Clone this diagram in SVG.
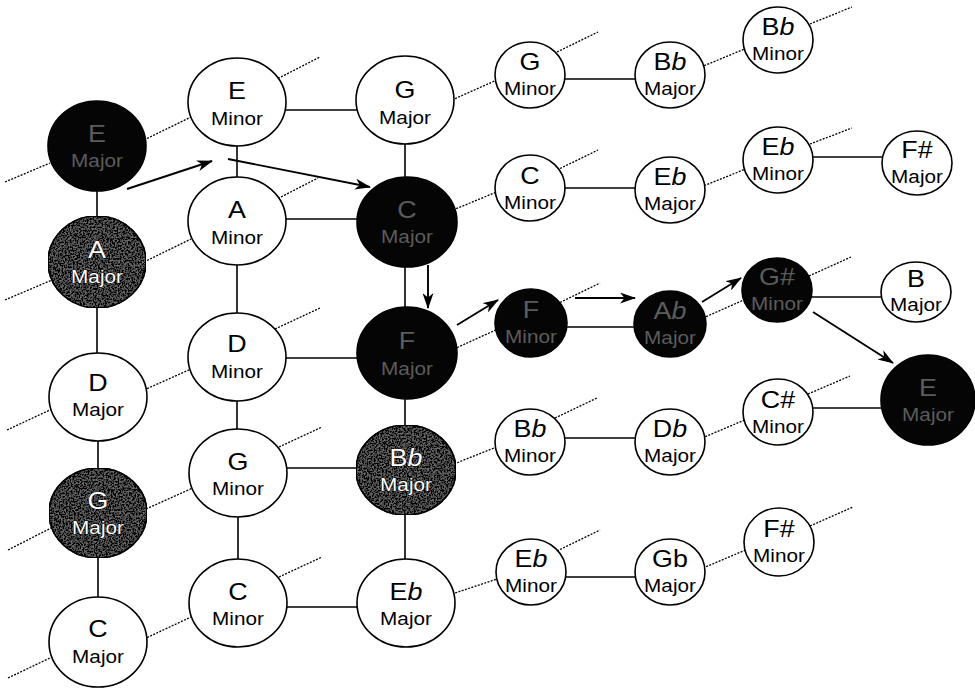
<svg xmlns="http://www.w3.org/2000/svg" width="975" height="690" viewBox="0 0 975 690">
  <style>
    .bg { fill: #ffffff; }
    .node ellipse { stroke: #000; stroke-width: 1.6; }
    .plain ellipse { fill: #ffffff; }
    .dark ellipse { fill: #050505; }
    .shade ellipse { fill: #707070; }
    text { font-family: "Liberation Sans", Arial, sans-serif; text-anchor: middle; }
    .k { font-size: 24px; }
    .q { font-size: 18.5px; }
    .plain text { fill: #000; }
    .dark text { fill: #5c5c5c; }
    .shade text { fill: #ffffff; stroke: #000; stroke-width: 0.9; paint-order: stroke; }
    .solid line { stroke: #000; stroke-width: 1.6; fill: none; }
    .dot line { stroke: #000; stroke-width: 1.3; stroke-dasharray: 2 1.4; fill: none; }
    .arrow line { stroke: #000; stroke-width: 1.9; fill: none; marker-end: url(#head); }
  </style>
  <defs>
    <marker id="head" viewBox="0 0 16 11" refX="15" refY="5.5" markerWidth="16" markerHeight="11" markerUnits="userSpaceOnUse" orient="auto">
      <path d="M0,0 L16,5.5 L0,11 L4.5,5.5 Z" fill="#000"/>
    </marker>
    <!-- coarse grain for the shaded keys -->
    <filter id="grain" x="0" y="0" width="100%" height="100%">
      <feTurbulence type="fractalNoise" baseFrequency="0.6" numOctaves="2" seed="7" result="noise"/>
      <feColorMatrix in="noise" type="matrix" values="0 0 0 0 0  0 0 0 0 0  0 0 0 0 0  0 0 0 -3.2 2.3" result="spots"/>
      <feComposite in="spots" in2="SourceGraphic" operator="in" result="clipped"/>
      <feMerge><feMergeNode in="SourceGraphic"/><feMergeNode in="clipped"/></feMerge>
    </filter>
  </defs>

  <rect class="bg" x="0" y="0" width="975" height="690"/>

  <!-- connectors -->
  <g id="connectors">
    <!-- relative / fifth relations -->
    <g class="solid">
      <line x1="97" y1="185" x2="97" y2="222"/>
      <line x1="97" y1="300" x2="97" y2="358"/>
      <line x1="98" y1="436" x2="98" y2="474"/>
      <line x1="98" y1="552" x2="98" y2="603"/>
      <line x1="237" y1="140" x2="237" y2="182"/>
      <line x1="237" y1="260" x2="237" y2="318"/>
      <line x1="237" y1="396" x2="237" y2="434"/>
      <line x1="238" y1="512" x2="238" y2="564"/>
      <line x1="405" y1="138" x2="405" y2="183"/>
      <line x1="405" y1="260" x2="405" y2="314"/>
      <line x1="405" y1="392" x2="405" y2="431"/>
      <line x1="405" y1="509" x2="405" y2="564"/>
      <line x1="282" y1="110" x2="360" y2="110"/>
      <line x1="282" y1="219" x2="362" y2="219"/>
      <line x1="282" y1="358" x2="362" y2="358"/>
      <line x1="283" y1="468" x2="361" y2="468"/>
      <line x1="283" y1="607" x2="361" y2="607"/>
      <line x1="562" y1="79" x2="638" y2="79"/>
      <line x1="562" y1="188" x2="638" y2="188"/>
      <line x1="563" y1="327" x2="638" y2="327"/>
      <line x1="562" y1="438" x2="638" y2="438"/>
      <line x1="563" y1="577" x2="638" y2="577"/>
      <line x1="810" y1="157" x2="885" y2="157"/>
      <line x1="809" y1="297" x2="884" y2="297"/>
      <line x1="810" y1="408" x2="884" y2="408"/>
    </g>
    <!-- parallel relations -->
    <g class="dot">
      <line x1="5" y1="182" x2="50" y2="163"/>
      <line x1="5" y1="300" x2="52" y2="280"/>
      <line x1="7" y1="430" x2="52" y2="409"/>
      <line x1="8" y1="550" x2="53" y2="527"/>
      <line x1="8" y1="678" x2="52" y2="657"/>
      <line x1="144" y1="140" x2="191" y2="117"/>
      <line x1="144" y1="262" x2="191" y2="239"/>
      <line x1="144" y1="390" x2="191" y2="369"/>
      <line x1="146" y1="509" x2="195" y2="487"/>
      <line x1="144" y1="639" x2="191" y2="617"/>
      <line x1="275" y1="80" x2="320" y2="57"/>
      <line x1="275" y1="200" x2="318" y2="178"/>
      <line x1="275" y1="329" x2="320" y2="308"/>
      <line x1="279" y1="447" x2="322" y2="427"/>
      <line x1="279" y1="577" x2="322" y2="557"/>
      <line x1="452" y1="100" x2="499" y2="79"/>
      <line x1="453" y1="210" x2="499" y2="191"/>
      <line x1="454" y1="349" x2="500" y2="328"/>
      <line x1="454" y1="464" x2="499" y2="446"/>
      <line x1="452" y1="594" x2="500" y2="578"/>
      <line x1="557" y1="52" x2="598" y2="32"/>
      <line x1="557" y1="170" x2="598" y2="150"/>
      <line x1="557" y1="304" x2="600" y2="283"/>
      <line x1="555" y1="418" x2="597" y2="398"/>
      <line x1="557" y1="551" x2="600" y2="530"/>
      <line x1="701" y1="67" x2="747" y2="48"/>
      <line x1="701" y1="187" x2="748" y2="168"/>
      <line x1="703" y1="318" x2="746" y2="299"/>
      <line x1="702" y1="438" x2="747" y2="419"/>
      <line x1="703" y1="568" x2="748" y2="549"/>
      <line x1="810" y1="24" x2="852" y2="7"/>
      <line x1="810" y1="144" x2="852" y2="128"/>
      <line x1="809" y1="276" x2="851" y2="257"/>
      <line x1="808" y1="394" x2="850" y2="376"/>
      <line x1="810" y1="526" x2="853" y2="507"/>
    </g>
    <!-- modulation path -->
    <g class="arrow">
      <line x1="127" y1="189" x2="212" y2="161"/>
      <line x1="228" y1="159" x2="370" y2="187"/>
      <line x1="428" y1="265" x2="428" y2="308"/>
      <line x1="457" y1="325" x2="498" y2="300"/>
      <line x1="575" y1="298" x2="635" y2="298"/>
      <line x1="702" y1="302" x2="741" y2="278"/>
      <line x1="813" y1="312" x2="893" y2="363"/>
    </g>
  </g>

  <!-- first column: major keys -->
  <g id="e-major" class="node dark" transform="translate(97,146)">
    <ellipse rx="49" ry="45"/>
    <text transform="scale(1.12,1)"><tspan class="k" x="0" y="-4">E</tspan><tspan class="q" x="0" y="21">Major</tspan></text>
  </g>
  <g id="a-major" class="node shade" transform="translate(97,262)">
    <ellipse rx="49" ry="46" filter="url(#grain)"/>
    <text transform="scale(1.12,1)"><tspan class="k" x="0" y="-4">A</tspan><tspan class="q" x="0" y="21">Major</tspan></text>
  </g>
  <g id="d-major" class="node plain" transform="translate(98,397)">
    <ellipse rx="49" ry="44"/>
    <text transform="scale(1.12,1)"><tspan class="k" x="0" y="-6">D</tspan><tspan class="q" x="0" y="19">Major</tspan></text>
  </g>
  <g id="g-major" class="node shade" transform="translate(98,513)">
    <ellipse rx="49" ry="45" filter="url(#grain)"/>
    <text transform="scale(1.12,1)"><tspan class="k" x="0" y="-4">G</tspan><tspan class="q" x="0" y="21">Major</tspan></text>
  </g>
  <g id="c-major" class="node plain" transform="translate(98,642)">
    <ellipse rx="49" ry="45"/>
    <text transform="scale(1.12,1)"><tspan class="k" x="0" y="-5">C</tspan><tspan class="q" x="0" y="21">Major</tspan></text>
  </g>

  <!-- second column: minor keys -->
  <g id="e-minor" class="node plain" transform="translate(237,102)">
    <ellipse rx="49" ry="44"/>
    <text transform="scale(1.12,1)"><tspan class="k" x="0" y="-3">E</tspan><tspan class="q" x="0" y="23">Minor</tspan></text>
  </g>
  <g id="a-minor" class="node plain" transform="translate(237,221)">
    <ellipse rx="49" ry="44"/>
    <text transform="scale(1.12,1)"><tspan class="k" x="0" y="-3">A</tspan><tspan class="q" x="0" y="23">Minor</tspan></text>
  </g>
  <g id="d-minor" class="node plain" transform="translate(237,357)">
    <ellipse rx="49" ry="44"/>
    <text transform="scale(1.12,1)"><tspan class="k" x="0" y="-5">D</tspan><tspan class="q" x="0" y="21">Minor</tspan></text>
  </g>
  <g id="g-minor" class="node plain" transform="translate(238,473)">
    <ellipse rx="49" ry="44"/>
    <text transform="scale(1.12,1)"><tspan class="k" x="0" y="-3">G</tspan><tspan class="q" x="0" y="22">Minor</tspan></text>
  </g>
  <g id="c-minor" class="node plain" transform="translate(238,603)">
    <ellipse rx="49" ry="44"/>
    <text transform="scale(1.12,1)"><tspan class="k" x="0" y="-3">C</tspan><tspan class="q" x="0" y="22">Minor</tspan></text>
  </g>

  <!-- third column: major keys -->
  <g id="g-major-2" class="node plain" transform="translate(405,100)">
    <ellipse rx="49" ry="44"/>
    <text transform="scale(1.12,1)"><tspan class="k" x="0" y="-2">G</tspan><tspan class="q" x="0" y="24">Major</tspan></text>
  </g>
  <g id="c-major-2" class="node dark" transform="translate(407,222)">
    <ellipse rx="50" ry="45"/>
    <text transform="scale(1.12,1)"><tspan class="k" x="0" y="-4">C</tspan><tspan class="q" x="0" y="21">Major</tspan></text>
  </g>
  <g id="f-major" class="node dark" transform="translate(407,353)">
    <ellipse rx="50" ry="46"/>
    <text transform="scale(1.12,1)"><tspan class="k" x="0" y="-4">F</tspan><tspan class="q" x="0" y="22">Major</tspan></text>
  </g>
  <g id="bb-major" class="node shade" transform="translate(406,470)">
    <ellipse rx="50" ry="45" filter="url(#grain)"/>
    <text transform="scale(1.12,1)"><tspan class="k" x="0" y="-4">B<tspan font-style="italic">b</tspan></tspan><tspan class="q" x="0" y="21">Major</tspan></text>
  </g>
  <g id="eb-major" class="node plain" transform="translate(406,603)">
    <ellipse rx="49" ry="44"/>
    <text transform="scale(1.12,1)"><tspan class="k" x="0" y="-3">E<tspan font-style="italic">b</tspan></tspan><tspan class="q" x="0" y="22">Major</tspan></text>
  </g>

  <!-- fourth column: minor keys -->
  <g id="g-minor-2" class="node plain" transform="translate(530,75)">
    <ellipse rx="35" ry="33"/>
    <text transform="scale(1.12,1)"><tspan class="k" x="0" y="-5">G</tspan><tspan class="q" x="0" y="20">Minor</tspan></text>
  </g>
  <g id="c-minor-2" class="node plain" transform="translate(530,188)">
    <ellipse rx="35" ry="33"/>
    <text transform="scale(1.12,1)"><tspan class="k" x="0" y="-4">C</tspan><tspan class="q" x="0" y="21">Minor</tspan></text>
  </g>
  <g id="f-minor" class="node dark" transform="translate(531,323)">
    <ellipse rx="36" ry="34"/>
    <text transform="scale(1.12,1)"><tspan class="k" x="0" y="-5">F</tspan><tspan class="q" x="0" y="20">Minor</tspan></text>
  </g>
  <g id="bb-minor" class="node plain" transform="translate(530,442)">
    <ellipse rx="35" ry="33"/>
    <text transform="scale(1.12,1)"><tspan class="k" x="0" y="-5">B<tspan font-style="italic">b</tspan></tspan><tspan class="q" x="0" y="20">Minor</tspan></text>
  </g>
  <g id="eb-minor" class="node plain" transform="translate(531,572)">
    <ellipse rx="35" ry="33"/>
    <text transform="scale(1.12,1)"><tspan class="k" x="0" y="-5">E<tspan font-style="italic">b</tspan></tspan><tspan class="q" x="0" y="20">Minor</tspan></text>
  </g>

  <!-- fifth column: major keys -->
  <g id="bb-major-2" class="node plain" transform="translate(670,75)">
    <ellipse rx="35" ry="33"/>
    <text transform="scale(1.12,1)"><tspan class="k" x="0" y="-5">B<tspan font-style="italic">b</tspan></tspan><tspan class="q" x="0" y="20">Major</tspan></text>
  </g>
  <g id="eb-major-2" class="node plain" transform="translate(670,190)">
    <ellipse rx="35" ry="33"/>
    <text transform="scale(1.12,1)"><tspan class="k" x="0" y="-5">E<tspan font-style="italic">b</tspan></tspan><tspan class="q" x="0" y="20">Major</tspan></text>
  </g>
  <g id="ab-major" class="node dark" transform="translate(670,324)">
    <ellipse rx="36" ry="33"/>
    <text transform="scale(1.12,1)"><tspan class="k" x="0" y="-5">A<tspan font-style="italic">b</tspan></tspan><tspan class="q" x="0" y="20">Major</tspan></text>
  </g>
  <g id="db-major" class="node plain" transform="translate(670,442)">
    <ellipse rx="35" ry="33"/>
    <text transform="scale(1.12,1)"><tspan class="k" x="0" y="-5">D<tspan font-style="italic">b</tspan></tspan><tspan class="q" x="0" y="20">Major</tspan></text>
  </g>
  <g id="gb-major" class="node plain" transform="translate(670,572)">
    <ellipse rx="35" ry="33"/>
    <text transform="scale(1.12,1)"><tspan class="k" x="0" y="-5">Gb</tspan><tspan class="q" x="0" y="20">Major</tspan></text>
  </g>

  <!-- sixth column: minor keys -->
  <g id="bb-minor-2" class="node plain" transform="translate(778,40)">
    <ellipse rx="35" ry="33"/>
    <text transform="scale(1.12,1)"><tspan class="k" x="0" y="-5">B<tspan font-style="italic">b</tspan></tspan><tspan class="q" x="0" y="20">Minor</tspan></text>
  </g>
  <g id="eb-minor-2" class="node plain" transform="translate(778,160)">
    <ellipse rx="35" ry="33"/>
    <text transform="scale(1.12,1)"><tspan class="k" x="0" y="-5">E<tspan font-style="italic">b</tspan></tspan><tspan class="q" x="0" y="20">Minor</tspan></text>
  </g>
  <g id="gs-minor" class="node dark" transform="translate(777,290)">
    <ellipse rx="35" ry="32"/>
    <text transform="scale(1.12,1)"><tspan class="k" x="0" y="-5">G#</tspan><tspan class="q" x="0" y="20">Minor</tspan></text>
  </g>
  <g id="cs-minor" class="node plain" transform="translate(778,412)">
    <ellipse rx="35" ry="33"/>
    <text transform="scale(1.12,1)"><tspan class="k" x="0" y="-4">C#</tspan><tspan class="q" x="0" y="21">Minor</tspan></text>
  </g>
  <g id="fs-minor" class="node plain" transform="translate(779,542)">
    <ellipse rx="35" ry="34"/>
    <text transform="scale(1.12,1)"><tspan class="k" x="0" y="-5">F#</tspan><tspan class="q" x="0" y="20">Minor</tspan></text>
  </g>

  <!-- seventh column: major keys -->
  <g id="fs-major" class="node plain" transform="translate(917,163)">
    <ellipse rx="35" ry="32"/>
    <text transform="scale(1.12,1)"><tspan class="k" x="0" y="-5">F#</tspan><tspan class="q" x="0" y="20">Major</tspan></text>
  </g>
  <g id="b-major" class="node plain" transform="translate(916,292)">
    <ellipse rx="35" ry="30"/>
    <text transform="scale(1.12,1)"><tspan class="k" x="0" y="-5">B</tspan><tspan class="q" x="0" y="19">Major</tspan></text>
  </g>
  <g id="e-major-2" class="node dark" transform="translate(928,400)">
    <ellipse rx="47" ry="45"/>
    <text transform="scale(1.12,1)"><tspan class="k" x="0" y="-4">E</tspan><tspan class="q" x="0" y="21">Major</tspan></text>
  </g>
</svg>
